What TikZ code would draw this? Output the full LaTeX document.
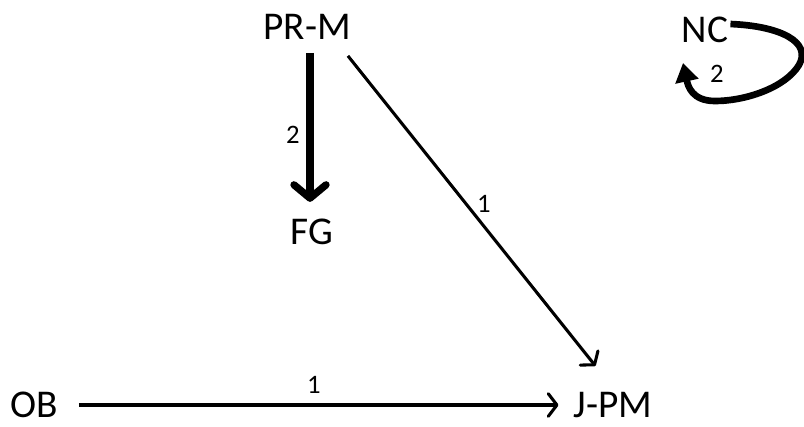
\documentclass[tikz,border=0pt]{standalone}
\usepackage{fontspec}
\setmainfont{Carlito}
\usetikzlibrary{arrows.meta,calc}
\begin{document}
\begin{tikzpicture}[x=0.75pt,y=-0.75pt,
  lbl/.style={font=\fontsize{29.5}{32}\selectfont, inner sep=0pt},
  num/.style={font=\fontsize{20}{22}\selectfont, inner sep=0pt},
  thin/.style={line width=2.3pt, -{Straight Barb[length=6.5pt,width=17pt,line width=2.3pt,round]}},
  thick/.style={line width=6pt, -{Straight Barb[length=10pt,width=24pt,line width=5.5pt,round]}},
  loopst/.style={line width=5pt, -{Triangle[length=14pt,width=17pt]}}]
\useasboundingbox (0,0) rectangle (804,426);
\node[lbl] (prm) at (307,27) {PR-M};
\node[lbl] (fg) at (312,232) {FG};
\node[lbl] (nc) at (705,30) {NC};
\node[lbl] (ob) at (34,405) {OB};
\node[lbl] (jpm) at (613,405) {J-PM};
% edges
\draw[thick] ($(prm.south)+(3,13)$) coordinate (a1) -- ($(fg.north)+(-2,-17)$) coordinate (a2);
\node[num] at ($(a1)!0.55!(a2)+(-17,0)$) {2};
\draw[thin] ($(prm.south east)+(-3,16)$) coordinate (b1) -- ($(jpm.north west)+(22,-26)$) coordinate (b2);
\node[num] at ($(b1)!0.476!(b2)+(18,0)$) {1};
\draw[thin] ($(ob.east)+(21,0)$) coordinate (c1) -- ($(jpm.west)+(-15,0)$) coordinate (c2);
\node[num] at ($(c1)!0.49!(c2)+(0,-20)$) {1};
% self loop
\draw[loopst] ($(nc.east)+(2,-6)$) .. controls +(50,2) and (812,42) .. ($(nc)+(94,35)$)
   .. controls (785,88) and (745,101) .. ($(nc)+(10,71)$)
   .. controls (692,101) and (688,86) .. ($(nc)+(-22,33)$);
\node[num] at ($(nc)+(12,44)$) {2};
\end{tikzpicture}
\end{document}
